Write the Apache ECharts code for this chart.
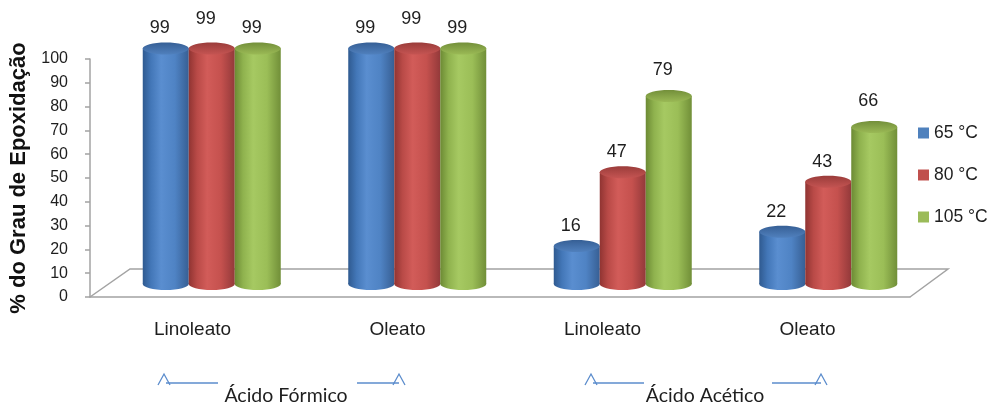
<!DOCTYPE html>
<html>
<head>
<meta charset="utf-8">
<script src="https://cdn.jsdelivr.net/npm/echarts@6/dist/echarts.min.js"></script>
<style>
  html, body { margin: 0; padding: 0; background: #ffffff; }
  #chart { width: 990px; height: 404px; }
</style>
</head>
<body>
<div id="chart"></div>
<script>
// ---- data ----
const categories = ['Linoleato', 'Oleato', 'Linoleato', 'Oleato'];
const seriesNames = ['65 °C', '80 °C', '105 °C'];
const values65 = [99, 99, 16, 22];
const values80 = [99, 99, 47, 43];
const values105 = [99, 99, 79, 66];
const yMin = 0;
const yMax = 100;
const yStep = 10;
const axisTitle = '% do Grau de Epoxidação';
const groupTitles = ['Ácido Fórmico', 'Ácido Acético'];

// ---- styling ----
const FONT = 'Liberation Sans, Arial, sans-serif';
const TEXT = '#1e1e1e';
const AXIS_GREY = '#a3a3a3';
const BAR_STEP = 46;     // distance between neighbouring cylinders in a group
const BAR_R = 23;        // cylinder radius (horizontal)
const BAR_RY = 6;        // ellipse half-height of cylinder caps
const LABEL_DX = -6;
const LABEL_GAP = 20;
// extra lift of a few value labels, per series then per category
const labelLift = [[0, 0, 0, 0], [9, 9, 0, 0], [0, 0, 6, 6]];

const palettes = [
  { body: ['#2f5a90', '#4377b8', '#5a8ed0', '#4f83c4', '#375f94'], top: ['#365f95', '#5080bd'], main: '#4f81bd' },
  { body: ['#903432', '#b94a47', '#d25c59', '#c5514e', '#93393a'], top: ['#9a3c3a', '#c45452'], main: '#c0504d' },
  { body: ['#6c8a34', '#8fb24e', '#a6c962', '#9bbe57', '#718f38'], top: ['#738f3a', '#9ab955'], main: '#9bbb59' }
];

function cylinder(params, api) {
  const s = params.seriesIndex;
  const cat = api.value(0);
  const val = api.value(1);
  const topPt = api.coord([cat, val]);
  const basePt = api.coord([cat, 0]);
  const cx = topPt[0] + (s - 1) * BAR_STEP;
  const pal = palettes[s];
  const stops = [0, 0.18, 0.4, 0.7, 1];
  const bodyFill = new echarts.graphic.LinearGradient(0, 0, 1, 0,
    pal.body.map((c, i) => ({ offset: stops[i], color: c })));
  const topFill = new echarts.graphic.LinearGradient(0, 0, 0, 1, [
    { offset: 0, color: pal.top[0] },
    { offset: 1, color: pal.top[1] }
  ]);
  const lift = labelLift[s][cat] || 0;
  return {
    type: 'group',
    children: [
      { type: 'ellipse', shape: { cx: cx, cy: basePt[1], rx: BAR_R, ry: BAR_RY }, style: { fill: bodyFill } },
      { type: 'rect', shape: { x: cx - BAR_R, y: topPt[1], width: BAR_R * 2, height: basePt[1] - topPt[1] }, style: { fill: bodyFill } },
      { type: 'ellipse', shape: { cx: cx, cy: topPt[1], rx: BAR_R, ry: BAR_RY }, style: { fill: topFill } },
      {
        type: 'text',
        x: cx + LABEL_DX,
        y: topPt[1] - LABEL_GAP - lift,
        style: {
          text: String(val),
          fontFamily: FONT,
          fontSize: 18,
          fill: TEXT,
          align: 'center',
          verticalAlign: 'middle'
        }
      }
    ]
  };
}

function cylinderSeries(name, values, idx) {
  return {
    type: 'custom',
    name: name,
    xAxisIndex: 1,
    yAxisIndex: 1,
    z: 5,
    itemStyle: { color: palettes[idx].main },
    renderItem: cylinder,
    encode: { x: 0, y: 1 },
    data: values.map((v, i) => [i, v])
  };
}

// small up-pointing arrow marks with a bracket line, drawn under the category labels
const ARROW_BLUE = '#5b8ccc';
function caret(x, y) {
  return {
    type: 'polyline',
    shape: { points: [[x - 6, y + 11], [x, y], [x + 6, y + 11]] },
    style: { stroke: ARROW_BLUE, lineWidth: 1.3, fill: null }
  };
}
function hline(x1, x2, y) {
  return {
    type: 'line',
    shape: { x1: x1, y1: y, x2: x2, y2: y },
    style: { stroke: ARROW_BLUE, lineWidth: 1.3 }
  };
}
function groupText(text, x) {
  return {
    type: 'text',
    x: x,
    y: 396,
    style: {
      text: text,
      fontFamily: 'Lato, Open Sans, sans-serif',
      fontSize: 19.5,
      fill: TEXT,
      align: 'center',
      verticalAlign: 'middle'
    }
  };
}

const chart = echarts.init(document.getElementById('chart'), null, { renderer: 'canvas' });

chart.setOption({
  backgroundColor: '#ffffff',
  animation: false,
  grid: [
    // front plane: axes and category labels
    { left: 90, top: 59, width: 820, height: 238, containLabel: false, outerBoundsMode: 'none' },
    // mid-depth plane where the cylinders stand
    { left: 109, top: 46, width: 822, height: 238, containLabel: false, outerBoundsMode: 'none' }
  ],
  legend: {
    orient: 'vertical',
    left: 918,
    top: 124,
    padding: 0,
    itemWidth: 11,
    itemHeight: 11,
    itemGap: 24,
    icon: 'rect',
    data: seriesNames,
    textStyle: { fontFamily: FONT, fontSize: 17.5, color: TEXT, lineHeight: 18 }
  },
  xAxis: [
    {
      type: 'category',
      gridIndex: 0,
      data: categories,
      axisLine: { show: true, lineStyle: { color: AXIS_GREY, width: 1.5 } },
      axisTick: { show: false },
      axisLabel: { margin: 23, fontFamily: FONT, fontSize: 19, color: TEXT }
    },
    {
      type: 'category',
      gridIndex: 1,
      data: categories,
      show: false
    }
  ],
  yAxis: [
    {
      type: 'value',
      gridIndex: 0,
      min: yMin,
      max: yMax,
      interval: yStep,
      name: axisTitle,
      nameLocation: 'middle',
      nameRotate: 90,
      nameGap: 59,
      nameTextStyle: { fontFamily: FONT, fontSize: 22, fontWeight: 'bold', color: '#111' },
      axisLine: { show: true, lineStyle: { color: AXIS_GREY, width: 1.5 } },
      axisTick: { show: true, length: 5, lineStyle: { color: AXIS_GREY, width: 1.5 } },
      axisLabel: { margin: 22, fontFamily: FONT, fontSize: 16, color: TEXT },
      splitLine: { show: false }
    },
    {
      type: 'value',
      gridIndex: 1,
      min: yMin,
      max: yMax,
      interval: yStep,
      show: false,
      splitLine: { show: false }
    }
  ],
  graphic: [
    // floor of the 3D box
    {
      type: 'polyline',
      z: 1,
      shape: { points: [[90, 297], [130, 269], [948, 269], [910, 297]] },
      style: { stroke: AXIS_GREY, lineWidth: 1.5, fill: null }
    },
    caret(164, 374), hline(166, 218, 383),
    hline(357, 399, 383), caret(399, 374),
    groupText(groupTitles[0], 286),
    caret(591, 374), hline(593, 644, 383),
    hline(772, 821, 383), caret(821, 374),
    groupText(groupTitles[1], 705)
  ],
  series: [
    cylinderSeries(seriesNames[0], values65, 0),
    cylinderSeries(seriesNames[1], values80, 1),
    cylinderSeries(seriesNames[2], values105, 2)
  ]
});
</script>
</body>
</html>
